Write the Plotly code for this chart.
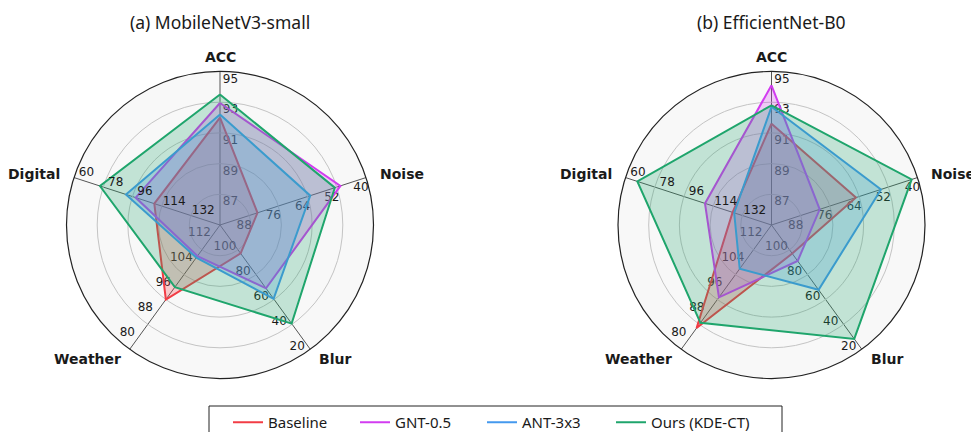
import math
import plotly.graph_objects as go

# ---------------- data ----------------
categories = ["ACC", "Noise", "Blur", "Weather", "Digital"]

acc_ticks = [87, 89, 91, 93, 95]
noise_ticks = [88, 76, 64, 52, 40]
blur_ticks = [100, 80, 60, 40, 20]
weather_ticks = [112, 104, 96, 88, 80]
digital_ticks = [132, 114, 96, 78, 60]

series_names = ["Baseline", "GNT-0.5", "ANT-3x3", "Ours (KDE-CT)"]
series_colors = ["#f23c45", "#d23cf0", "#4499ee", "#1fa56c"]
series_fills = ["rgba(242,60,69,0.25)", "rgba(210,60,240,0.25)",
                "rgba(68,153,238,0.25)", "rgba(31,165,108,0.25)"]

# (a) MobileNetV3-small : ACC, Noise, Blur, Weather, Digital
mb_baseline = [92.0, 84.6, 97.1, 96.0, 109.5]
mb_gnt = [92.95, 50.5, 69.0, 110.0, 98.0]
mb_ant = [92.2, 62.9, 60.6, 109.5, 92.0]
mb_ours = [93.5, 52.8, 40.6, 100.0, 76.0]

# (b) EfficientNet-B0
ef_baseline = [91.6, 65.3, 97.0, 86.8, 126.0]
ef_gnt = [94.1, 80.2, 91.0, 96.7, 109.0]
ef_ant = [92.7, 55.0, 67.8, 105.9, 127.0]
ef_ours = [92.8, 42.4, 28.3, 88.5, 67.3]

titles = ["(a) MobileNetV3-small", "(b) EfficientNet-B0"]

# ---------------- helpers ----------------
axis_ticks = [acc_ticks, noise_ticks, blur_ticks, weather_ticks, digital_ticks]
n_axes = len(categories)
axis_angles = [i * 360.0 / n_axes for i in range(n_axes)]
n_rings = len(acc_ticks)
ring_r = [(k + 1) / n_rings for k in range(n_rings)]

W, H = 971, 432
R = 153.5
centers = [(220.0, 225.0), (771.5, 225.0)]

# tick-label placement (pixels): inward along the spoke, clockwise across it
label_along = [8.0, 8.0, 9.7, 11.9, 10.5]
label_perp = [10.5, 8.4, 9.0, 11.7, 8.1]


def norm(v, ticks):
    t0, t1 = ticks[0], ticks[-1]
    return ring_r[0] + (ring_r[-1] - ring_r[0]) * (v - t0) / (t1 - t0)


def to_r(values):
    return [norm(v, axis_ticks[i]) for i, v in enumerate(values)]


NUM_FONT = dict(family="DejaVu Sans", size=12, color="#1a1a1a")
LBL_FONT = dict(family="DejaVu Sans", size=14, color="#1a1a1a", weight="bold")
TXT_FONT = "Noto Sans"

fig = go.Figure()


def tick_label_trace(axis_idx, subplot):
    rs, ths, txt = [], [], []
    along = label_along[axis_idx] / R
    perp = label_perp[axis_idx] / R
    for k, t in enumerate(axis_ticks[axis_idx]):
        a = ring_r[k] - along
        rs.append(math.hypot(a, perp))
        ths.append(axis_angles[axis_idx] + math.degrees(math.atan2(perp, a)))
        txt.append(str(t))
    return go.Scatterpolar(r=rs, theta=ths, text=txt, mode="text",
                           textfont=NUM_FONT, textposition="middle center",
                           showlegend=False, hoverinfo="skip",
                           cliponaxis=False, subplot=subplot)


datasets = [
    [mb_baseline, mb_gnt, mb_ant, mb_ours],
    [ef_baseline, ef_gnt, ef_ant, ef_ours],
]

for p, data in enumerate(datasets):
    subplot = "polar" if p == 0 else "polar2"
    # tick labels under the fills
    for ai in range(n_axes - 1):
        fig.add_trace(tick_label_trace(ai, subplot))
    for s, vals in enumerate(data):
        r = to_r(vals)
        fig.add_trace(go.Scatterpolar(
            r=r + [r[0]], theta=axis_angles + [axis_angles[0]],
            mode="lines", fill="toself", fillcolor=series_fills[s],
            line=dict(color=series_colors[s], width=2),
            name=series_names[s], showlegend=False,
            subplot=subplot, hoverinfo="skip"))
    # Digital labels on top
    fig.add_trace(tick_label_trace(n_axes - 1, subplot))

# legend entries (line only)
for s in range(len(series_names)):
    fig.add_trace(go.Scatterpolar(
        r=[None], theta=[None], mode="lines",
        line=dict(color=series_colors[s], width=2),
        name=series_names[s], showlegend=True, subplot="polar",
        legend="legend" if s < len(series_names) - 1 else "legend2"))


def polar_layout(cx, cy):
    return dict(
        domain=dict(x=[(cx - R) / W, (cx + R) / W],
                    y=[(H - cy - R) / H, (H - cy + R) / H]),
        bgcolor="#f8f8f8",
        radialaxis=dict(range=[0, 1], showticklabels=False, ticks="",
                        showline=False, tickvals=ring_r,
                        gridcolor="#c4c4c4", gridwidth=1),
        angularaxis=dict(type="linear", thetaunit="degrees",
                         direction="clockwise", rotation=90,
                         tickmode="array", tickvals=axis_angles,
                         showticklabels=False, ticks="",
                         showline=True, linecolor="#222222", linewidth=1.2,
                         gridcolor="#555555", gridwidth=1),
    )


annotations = []
for i, (cx, cy) in enumerate(centers):
    annotations.append(dict(
        text=titles[i], x=cx / W, y=1 - 22 / H, xref="paper", yref="paper",
        xanchor="center", yanchor="middle", showarrow=False,
        font=dict(family=TXT_FONT, size=17.5, color="#1a1a1a")))
    # category names around the outer circle
    for a, name in zip(axis_angles, categories):
        s, c = math.sin(math.radians(a)), math.cos(math.radians(a))
        if abs(s) < 0.1:
            rl, xa = 1.095 * R, "center"
        else:
            rl, xa = 1.08 * R, ("left" if s > 0 else "right")
        annotations.append(dict(
            text=name, x=(cx + rl * s) / W, y=1 - (cy - rl * c) / H,
            xref="paper", yref="paper", xanchor=xa, yanchor="middle",
            showarrow=False, font=LBL_FONT))

LEG_FONT = dict(family=TXT_FONT, size=15, color="#1a1a1a")
LEG_TOP = 1 - 406 / H
fig.update_layout(
    width=W, height=H,
    margin=dict(l=0, r=0, t=0, b=0, autoexpand=False),
    paper_bgcolor="white",
    polar=polar_layout(*centers[0]),
    polar2=polar_layout(*centers[1]),
    annotations=annotations,
    showlegend=True,
    legend=dict(orientation="h", x=228 / W, xanchor="left",
                y=LEG_TOP, yanchor="top",
                bgcolor="rgba(0,0,0,0)", borderwidth=0,
                entrywidth=82, entrywidthmode="pixels", font=LEG_FONT),
    legend2=dict(orientation="h", x=611 / W, xanchor="left",
                 y=LEG_TOP, yanchor="top",
                 bgcolor="rgba(0,0,0,0)", borderwidth=0, font=LEG_FONT),
    shapes=[dict(type="rect", xref="paper", yref="paper",
                 x0=209 / W, x1=782 / W, y0=-0.2, y1=1 - 406 / H,
                 line=dict(color="#222222", width=1), fillcolor="rgba(0,0,0,0)")],
)

fig.write_html("out.html", config={"displayModeBar": False},
               post_script="document.body.style.margin='0';")
